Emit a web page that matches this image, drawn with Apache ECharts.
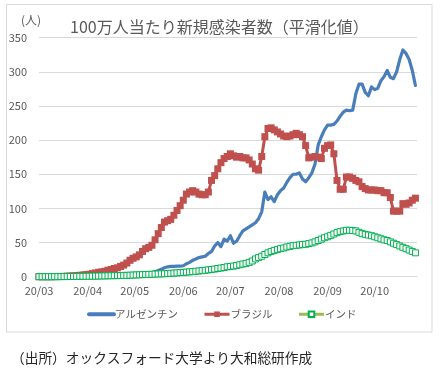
<!DOCTYPE html>
<html><head><meta charset="utf-8">
<script src="https://cdn.jsdelivr.net/npm/echarts@6/dist/echarts.min.js"></script>
<style>html,body{margin:0;padding:0;background:#fff}#c{width:440px;height:371px}</style>
</head><body><div id="c"></div>
<script>
// 2-day sampled values from 2020-03-01
const startDate = [2020, 3, 1];
const stepDays = 2;
const seriesNames = ['アルゼンチン', 'ブラジル', 'インド'];
const argentina = [
  0,0,0,0,0,0,0,0,0.2,0.3,
  0.5,0.6,0.8,1,1,1.2,1.3,1.4,1.5,1.6,
  1.7,1.8,1.8,1.9,2,2,2.1,2.3,2.5,3,
  3.2,3.5,4,4.5,5,5.5,6,7,9,11,
  13,14.5,15,15,15.5,15.5,16,19,21,24,
  26,28,29,30,34,37,45,50,44,55,
  52,60,49,52,60,67,70,73,76,79,
  85,95,124,113,117,110,120,126,130,138,
  145,150,150,152,143,139,145,152,165,193,
  205,215,222,222,223,228,235,241,244,243,
  244,268,282,282,270,265,278,274,276,287,
  293,302,292,290,300,318,332,327,318,302,
  280
];
const brazil = [
  0,0,0,0,0,0.1,0.2,0.3,0.5,0.8,
  1,1.3,1.7,2,2.5,3,3.5,4.5,5.5,6.5,
  7,8,9.5,10.5,12,13,15,17,20,24,
  27,29,32,37,41,43,46,54,63,72,
  80,82,84,90,97,104,112,121,124,126,
  124,121,120,120,124,141,148,158,167,173,
  176,180,177,175,176,174,174,171,165,158,
  156,176,205,217,218,215,212,209,206,205,
  206,208,210,208,205,192,174,175,176,175,
  173,188,192,193,180,141,128,128,146,146,
  144,141,139,132,129,127,127,127,126,126,
  123,123,116,96,96,96,107,106,108,112,
  115
];
const india = [
  0,0,0,0,0,0.1,0.1,0.1,0.2,0.2,
  0.3,0.3,0.4,0.5,0.5,0.6,0.7,0.8,0.9,1,
  1.1,1.2,1.3,1.4,1.5,1.6,1.7,1.9,2,2.2,
  2.4,2.6,2.8,3,3.2,3.4,3.6,3.8,4,4.2,
  4.4,4.7,5,5.3,5.6,6,6.3,6.7,7.1,7.5,
  7.9,8.4,8.9,9.4,10,10.6,11.2,12,12.7,13.5,
  14.5,15,15.6,16.5,17.5,18.5,19.5,21,23,26,
  28,30,32.5,35,37,38.5,40,41,42,43.5,
  44.5,45.5,46,46.5,47,47.5,48.5,49.5,51,53,
  55,57,58.5,60.5,62.5,64.5,66,67,68,68,
  67.5,67,65,63,62,61,60,58.5,57,55.5,
  54,53,51,49,47,45,43,41,39,37,
  35
];
const monthTicks = ['2020-03','2020-04','2020-05','2020-06','2020-07','2020-08','2020-09','2020-10'];
const xEnd = [2020, 10, 28];
const yMin = 0, yMax = 350, yStep = 50;

const DAY = 86400000;
const t0 = Date.UTC(startDate[0], startDate[1]-1, startDate[2]);
function dayOf(y, m, d) { return Math.round((Date.UTC(y, m-1, d) - t0) / DAY); }
function pairs(arr) { return arr.map((v, i) => [stepDays*i, v]); }
const tickDays = monthTicks.map(s => { const p = s.split('-'); return dayOf(+p[0], +p[1], 1); });
const tickLabel = {};
monthTicks.forEach((s, i) => { tickLabel[tickDays[i]] = s.slice(2, 4) + '/' + s.slice(5, 7); });
const FONT = '"Noto Sans CJK JP", "Noto Sans", sans-serif';
const CLEAR = 'rgba(0,0,0,0)';

const chart = echarts.init(document.getElementById('c'), null, {renderer: 'canvas'});
chart.setOption({
  animation: false,
  textStyle: {fontFamily: FONT},
  title: {
    text: '100万人当たり新規感染者数（平滑化値）',
    left: 70, top: 19, padding: 0,
    textStyle: {fontFamily: FONT, fontSize: 16, fontWeight: 'normal', color: '#595959'}
  },
  grid: {left: 39, top: 37.7, width: 378, height: 239, containLabel: false},
  legend: {
    data: [
      {name: seriesNames[0], lineStyle: {width: 4}, itemStyle: {color: CLEAR, borderColor: CLEAR, borderWidth: 0}},
      {name: seriesNames[1], lineStyle: {width: 3}},
      {name: seriesNames[2], lineStyle: {width: 3}}
    ],
    left: 87, top: 309,
    itemWidth: 25, itemHeight: 7, itemGap: 25,
    padding: 0,
    textStyle: {fontFamily: FONT, fontSize: 10.5, color: '#595959', padding: [0,0,0,-4]}
  },
  xAxis: {
    type: 'value',
    min: 0,
    max: dayOf(xEnd[0], xEnd[1], xEnd[2]),
    axisLine: {show: true, onZero: false, lineStyle: {color: '#D9D9D9', width: 1}},
    axisTick: {show: false},
    splitLine: {show: false},
    axisLabel: {
      customValues: tickDays,
      formatter: v => tickLabel[Math.round(v)] || '',
      color: '#595959', fontSize: 11, fontFamily: FONT, margin: 9, hideOverlap: false,
      showMinLabel: true, showMaxLabel: true
    }
  },
  yAxis: {
    type: 'value', min: yMin, max: yMax, interval: yStep,
    axisLine: {show: false}, axisTick: {show: false},
    splitLine: {lineStyle: {color: '#D9D9D9', width: 1}},
    axisLabel: {color: '#595959', fontSize: 11, fontFamily: FONT, margin: 12}
  },
  series: [
    {
      name: seriesNames[0], type: 'line', data: pairs(argentina),
      symbol: 'none', showSymbol: false,
      lineStyle: {color: '#4A7EBB', width: 3.2, cap: 'round', join: 'round'},
      itemStyle: {color: '#4A7EBB'}
    },
    {
      name: seriesNames[1], type: 'line', data: pairs(brazil),
      symbol: 'rect', symbolSize: 7, showSymbol: true,
      lineStyle: {color: '#C0504D', width: 3},
      itemStyle: {color: '#C0504D'}
    },
    {
      name: seriesNames[2], type: 'line', data: pairs(india),
      symbol: 'rect', symbolSize: 6, showSymbol: true,
      lineStyle: {color: '#9BBB59', width: 2},
      itemStyle: {color: '#ffffff', borderColor: '#00B050', borderWidth: 1}
    }
  ],
  graphic: [
    {type: 'rect', shape: {x: 6.5, y: 4.5, width: 425.5, height: 327.5}, style: {fill: 'none', stroke: '#D9D9D9', lineWidth: 1}, silent: true, z: -1},
    {type: 'text', left: 21, top: 14, style: {text: '(人)', font: '12px ' + FONT, fill: '#595959'}},
    {type: 'text', left: 11, top: 351, style: {text: '（出所）オックスフォード大学より大和総研作成', font: '13.7px ' + FONT, fill: '#262626'}}
  ]
});
</script>
</body></html>
